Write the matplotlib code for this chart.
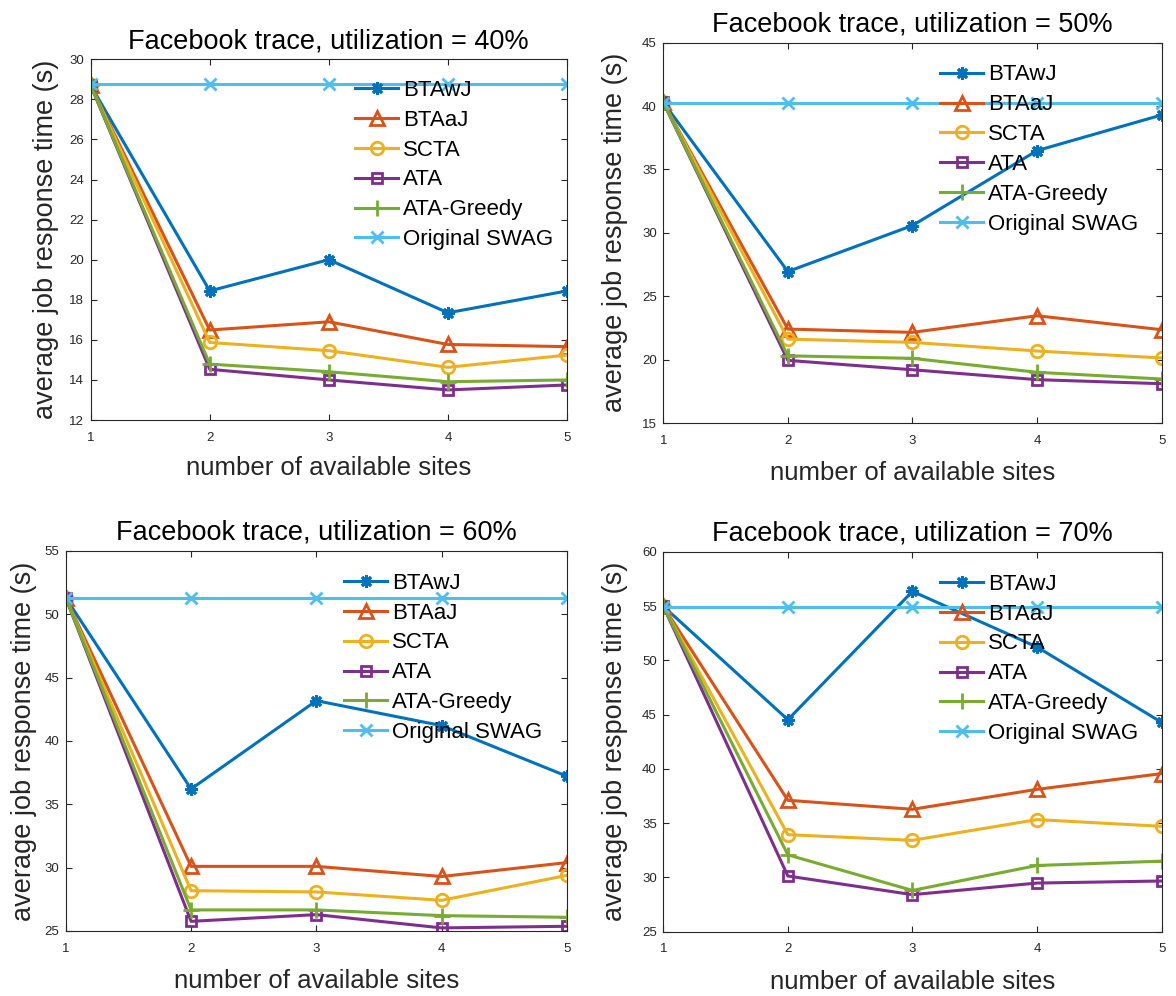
import numpy as np
import matplotlib.pyplot as plt

plt.rcParams['font.family'] = ['Liberation Sans', 'DejaVu Sans']

# data
sites = [1, 2, 3, 4, 5]
names = ['BTAwJ', 'BTAaJ', 'SCTA', 'ATA', 'ATA-Greedy', 'Original SWAG']
utils = [40, 50, 60, 70]

# utilization = 40%
btawj_40 = [28.7, 18.44, 20.0, 17.35, 18.44]
btaaj_40 = [28.7, 16.49, 16.9, 15.77, 15.66]
scta_40 = [28.7, 15.87, 15.46, 14.63, 15.24]
ata_40 = [28.7, 14.53, 14.0, 13.5, 13.75]
greedy_40 = [28.7, 14.79, 14.41, 13.91, 14.0]
swag_40 = [28.75, 28.75, 28.75, 28.75, 28.75]

# utilization = 50%
btawj_50 = [40.3, 26.95, 30.58, 36.49, 39.3]
btaaj_50 = [40.3, 22.41, 22.15, 23.46, 22.36]
scta_50 = [40.3, 21.62, 21.36, 20.68, 20.13]
ata_50 = [40.3, 19.94, 19.2, 18.42, 18.1]
greedy_50 = [40.3, 20.3, 20.1, 19.0, 18.47]
swag_50 = [40.27, 40.27, 40.27, 40.27, 40.27]

# utilization = 60%
btawj_60 = [51.3, 36.21, 43.18, 41.21, 37.21]
btaaj_60 = [51.3, 30.1, 30.1, 29.3, 30.4]
scta_60 = [51.3, 28.18, 28.08, 27.42, 29.39]
ata_60 = [51.3, 25.76, 26.29, 25.24, 25.37]
greedy_60 = [51.3, 26.66, 26.66, 26.21, 26.08]
swag_60 = [51.29, 51.29, 51.29, 51.29, 51.29]

# utilization = 70%
btawj_70 = [55.0, 44.54, 56.37, 51.24, 44.29]
btaaj_70 = [55.0, 37.11, 36.28, 38.12, 39.57]
scta_70 = [55.0, 33.94, 33.42, 35.33, 34.71]
ata_70 = [55.0, 30.13, 28.41, 29.48, 29.67]
greedy_70 = [55.0, 32.08, 28.8, 31.1, 31.5]
swag_70 = [54.93, 54.93, 54.93, 54.93, 54.93]

panels = [
    [btawj_40, btaaj_40, scta_40, ata_40, greedy_40, swag_40],
    [btawj_50, btaaj_50, scta_50, ata_50, greedy_50, swag_50],
    [btawj_60, btaaj_60, scta_60, ata_60, greedy_60, swag_60],
    [btawj_70, btaaj_70, scta_70, ata_70, greedy_70, swag_70],
]
ylims = [(12, 30), (15, 45), (25, 55), (25, 60)]
ystep = [2, 5, 5, 5]

# matlab default colours
colors = ['#0072BD', '#D95319', '#EDB120', '#7E2F8E', '#77AC30', '#4DBEEE']
markers = [(8, 2, 0), '^', 'o', 's', '+', 'x']
msizes = [9, 10, 9, 7, 11, 8]

# axes boxes [left, bottom, width, height] in figure fraction
boxes = [
    [0.0771, 0.5783, 0.4050, 0.3622],
    [0.5640, 0.5753, 0.4238, 0.3818],
    [0.0559, 0.0653, 0.4263, 0.3815],
    [0.5640, 0.0646, 0.4238, 0.3812],
]
ylab_x = [-0.067, -0.071, -0.058, -0.071]

fig = plt.figure(figsize=(11.76, 9.96), dpi=100)

for k in range(4):
    ax = fig.add_axes(boxes[k])
    for j in range(6):
        ax.plot(sites, panels[k][j], color=colors[j], marker=markers[j],
                markersize=msizes[j], markerfacecolor='none',
                markeredgecolor=colors[j], markeredgewidth=2, linewidth=2.2,
                label=names[j])
    ax.set_xlim(1, 5)
    ax.set_ylim(*ylims[k])
    ax.set_xticks(sites)
    ax.set_yticks(np.arange(ylims[k][0], ylims[k][1] + 0.1, ystep[k]))
    ax.tick_params(direction='in', top=True, right=True, length=4.5,
                   width=0.8, labelsize=9.5, colors='#262626')
    ax.tick_params(axis='x', pad=8.5)
    ax.tick_params(axis='y', pad=4.6)
    for s in ax.spines.values():
        s.set_color('#262626')
        s.set_linewidth(0.8)
    ax.set_title(f'Facebook trace, utilization = {utils[k]}%', fontsize=19.5, pad=8)
    ax.set_xlabel('number of available sites', fontsize=18.5, color='#262626')
    ax.set_ylabel('average job response time (s)', fontsize=19.5, color='#262626')
    ax.xaxis.set_label_coords(0.5, -0.10)
    ax.yaxis.set_label_coords(ylab_x[k], 0.5)
    ax.legend(loc='upper left', bbox_to_anchor=(0.555, 0.943), frameon=False,
              fontsize=16, borderpad=0, borderaxespad=0, handlelength=1.95,
              handletextpad=0.2, labelspacing=0.4)

plt.savefig('out.png', dpi=100)
